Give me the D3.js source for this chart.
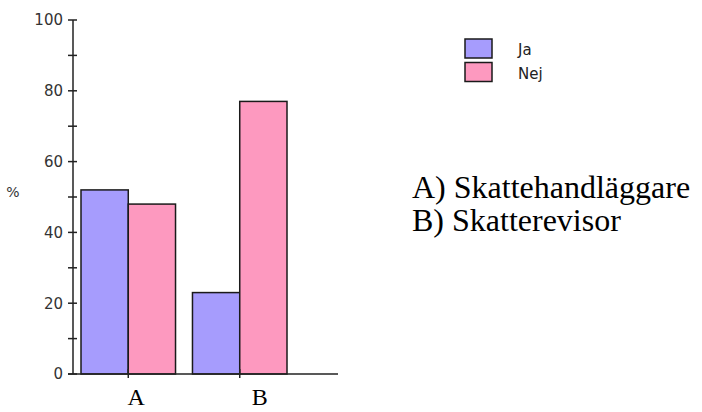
<!DOCTYPE html>
<html>
<head>
<meta charset="utf-8">
<script src="https://cdn.jsdelivr.net/npm/d3@7"></script>
<style>
  html, body { margin: 0; padding: 0; background: #fff; }
  svg { display: block; }
</style>
</head>
<body>
<svg id="chart" width="702" height="412"></svg>
<script>
// ---- data ----
const categories = ["A", "B"];
const seriesNames = ["Ja", "Nej"];
const jaValues = [52, 23];
const nejValues = [48, 77];
const yTicks = [0, 20, 40, 60, 80, 100];
const yMinorTicks = [10, 30, 50, 70, 90];
const categoryDescriptions = ["A) Skattehandläggare", "B) Skatterevisor"];
const yLabel = "%";

// ---- layout ----
const W = 702, H = 412;
const axisX = 73, baseY = 374, topY = 20;
const groupStart = 81, groupEnd = 287, axisEnd = 338;
const colors = { Ja: "#a69cfd", Nej: "#fd99bf" };
const labelNudge = [8, 20];
const sans = "'DejaVu Sans', Verdana, sans-serif";
const serif = "'Liberation Serif', 'Times New Roman', serif";

const svg = d3.select("#chart");

const y = d3.scaleLinear().domain([0, 100]).range([baseY, topY]);
const x0 = d3.scaleBand().domain(categories).range([groupStart, groupEnd])
  .paddingInner(0.152).paddingOuter(0);
const x1 = d3.scaleBand().domain(seriesNames).range([0, x0.bandwidth()]).padding(0);
const color = d3.scaleOrdinal().domain(seriesNames).range([colors.Ja, colors.Nej]);

const rows = categories.map((c, i) => ({ cat: c, values: [
  { key: "Ja", value: jaValues[i] },
  { key: "Nej", value: nejValues[i] }
]}));

// bars
const g = svg.append("g");
g.selectAll("g.grp").data(rows).join("g")
  .attr("class", "grp")
  .attr("transform", d => `translate(${x0(d.cat)},0)`)
  .selectAll("rect").data(d => d.values).join("rect")
  .attr("x", d => x1(d.key))
  .attr("y", d => y(d.value))
  .attr("width", x1.bandwidth())
  .attr("height", d => baseY - y(d.value))
  .attr("fill", d => color(d.key))
  .attr("stroke", "#1a1a1a")
  .attr("stroke-width", 1.5);

// y axis
const yAxis = d3.axisLeft(y).tickValues(yTicks).tickSize(0).tickPadding(0);
const ya = svg.append("g").attr("transform", `translate(${axisX},0)`);
ya.call(yAxis);
ya.attr("font-family", sans).attr("font-size", 15);
ya.select(".domain").remove();
ya.selectAll(".tick text")
  .attr("x", -10)
  .attr("fill", "#333");
ya.append("line").attr("x1", 0).attr("x2", 0)
  .attr("y1", y(100)).attr("y2", y(0))
  .attr("stroke", "#222").attr("stroke-width", 1.5);
ya.selectAll("line.tk").data(yTicks.concat(yMinorTicks)).join("line")
  .attr("class", "tk")
  .attr("x1", -5).attr("x2", 4)
  .attr("y1", d => y(d)).attr("y2", d => y(d))
  .attr("stroke", "#222").attr("stroke-width", 1.5);

// x axis
svg.append("line")
  .attr("x1", axisX - 5).attr("x2", axisEnd)
  .attr("y1", baseY).attr("y2", baseY)
  .attr("stroke", "#222").attr("stroke-width", 1.5);
svg.selectAll("line.xtk").data(categories).join("line")
  .attr("class", "xtk")
  .attr("x1", d => x0(d) + x0.bandwidth() / 2)
  .attr("x2", d => x0(d) + x0.bandwidth() / 2)
  .attr("y1", baseY - 5).attr("y2", baseY + 4)
  .attr("stroke", "#222").attr("stroke-width", 1.5);

// category labels
svg.selectAll("text.cat").data(categories).join("text")
  .attr("class", "cat")
  .attr("x", (d, i) => x0(d) + x0.bandwidth() / 2 + labelNudge[i])
  .attr("y", 405)
  .attr("text-anchor", "middle")
  .attr("font-family", serif)
  .attr("font-size", 24)
  .attr("fill", "#000")
  .text(d => d);

// y label
svg.append("text")
  .attr("x", 13).attr("y", 197)
  .attr("text-anchor", "middle")
  .attr("font-family", sans)
  .attr("font-size", 14)
  .attr("fill", "#333")
  .text(yLabel);

// legend
const lg = svg.append("g").attr("transform", "translate(465,39)");
const li = lg.selectAll("g").data(seriesNames).join("g")
  .attr("transform", (d, i) => `translate(0,${i * 23.5})`);
li.append("rect").attr("width", 27).attr("height", 19)
  .attr("fill", d => color(d))
  .attr("stroke", "#1a1a1a").attr("stroke-width", 1.5);
li.append("text").attr("x", 53).attr("y", 16)
  .attr("font-family", sans)
  .attr("font-size", 15)
  .attr("fill", "#222")
  .text(d => d);

// descriptions
svg.selectAll("text.desc").data(categoryDescriptions).join("text")
  .attr("class", "desc")
  .attr("x", 412)
  .attr("y", (d, i) => 198 + i * 33)
  .attr("font-family", serif)
  .attr("font-size", 32)
  .attr("fill", "#000")
  .text(d => d);
</script>
</body>
</html>
